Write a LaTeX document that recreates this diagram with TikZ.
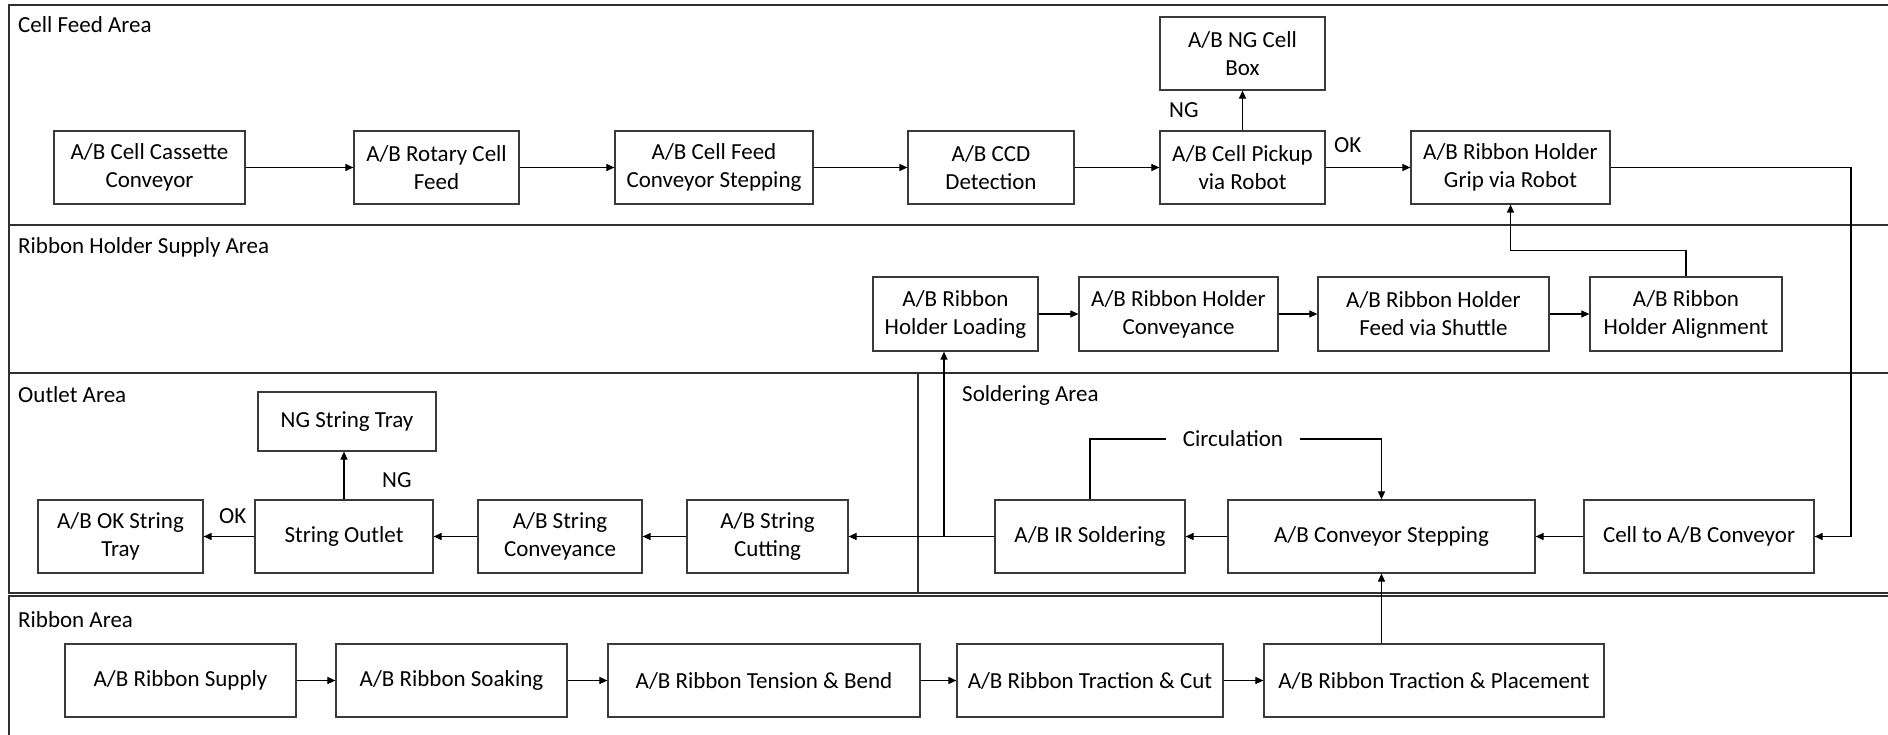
\documentclass[tikz,border=0pt]{standalone}
\usepackage{fontspec}
\setmainfont{Carlito}
\usetikzlibrary{arrows.meta}
\definecolor{boxc}{HTML}{3A3A3A}
\definecolor{areac}{HTML}{303030}
\tikzset{
  box/.style={draw=boxc, line width=1.2pt, inner sep=0pt, align=center,
    font=\fontsize{23pt}{28pt}\selectfont},
  area/.style={draw=areac, line width=1.5pt},
  lbl/.style={inner sep=0pt, font=\fontsize{23pt}{28pt}\selectfont},
  arr/.style={line width=1.1pt, draw=black, -{Triangle[length=8pt,width=7pt]}},
  ln/.style={line width=1.1pt, draw=black}
}
\begin{document}
\begin{tikzpicture}[x=1pt,y=-1pt]
\clip (0,0) rectangle (1888,735);
\fill[white] (0,0) rectangle (1888,735);
% areas
\draw[area] (9,5) rectangle (1900,225);
\draw[area] (9,225) rectangle (1900,373);
\draw[area] (9,373) rectangle (918,593);
\draw[area] (918,373) rectangle (1900,593);
\draw[area] (9,596) rectangle (1900,760);
% area labels
\node[lbl, anchor=base west] (lcf) at (18,33) {Cell Feed Area};
\node[lbl, anchor=base west] (lrh) at (18,254) {Ribbon Holder Supply Area};
\node[lbl, anchor=base west] (lout) at (18,402) {Outlet Area};
\node[lbl, anchor=base west] (lsol) at (962,401) {Soldering Area};
\node[lbl, anchor=base west] (lrib) at (18,627) {Ribbon Area};
% row 1
\node[box, minimum width=191pt, minimum height=73pt] (cc)   at (149.5,167.5) {A/B Cell Cassette\\Conveyor};
\node[box, minimum width=165pt, minimum height=73pt] (rcf)  at (436.5,167.5) {A/B Rotary Cell\\Feed};
\node[box, minimum width=198pt, minimum height=73pt] (cfs)  at (714,167.5) {A/B Cell Feed\\Conveyor Stepping};
\node[box, minimum width=166pt, minimum height=73pt] (ccd)  at (991,167.5) {A/B CCD\\Detection};
\node[box, minimum width=165pt, minimum height=73pt] (pick) at (1242.5,167.5) {A/B Cell Pickup\\via Robot};
\node[box, minimum width=199pt, minimum height=73pt] (grip) at (1510.5,167.5) {A/B Ribbon Holder\\Grip via Robot};
\node[box, minimum width=165pt, minimum height=73pt] (ngbox) at (1242.5,53.5) {A/B NG Cell\\Box};
% row 2
\node[box, minimum width=165pt, minimum height=74pt] (load)  at (955.5,314) {A/B Ribbon\\Holder Loading};
\node[box, minimum width=199pt, minimum height=74pt] (hconv) at (1178.5,314) {A/B Ribbon Holder\\Conveyance};
\node[box, minimum width=231pt, minimum height=74pt] (shut)  at (1433.5,314) {A/B Ribbon Holder\\Feed via Shuttle};
\node[box, minimum width=192pt, minimum height=74pt] (align) at (1686,314) {A/B Ribbon\\Holder Alignment};
% row 3
\node[box, minimum width=165pt, minimum height=73pt] (oktray) at (120.5,536.5) {A/B OK String\\Tray};
\node[box, minimum width=178pt, minimum height=73pt] (outlet) at (344,536.5) {String Outlet};
\node[box, minimum width=164pt, minimum height=73pt] (sconv)  at (560,536.5) {A/B String\\Conveyance};
\node[box, minimum width=161pt, minimum height=73pt] (scut)   at (767.5,536.5) {A/B String\\Cutting};
\node[box, minimum width=190pt, minimum height=73pt] (ir)     at (1090,536.5) {A/B IR Soldering};
\node[box, minimum width=307pt, minimum height=73pt] (cstep)  at (1381.5,536.5) {A/B Conveyor Stepping};
\node[box, minimum width=230pt, minimum height=73pt] (c2c)    at (1699,536.5) {Cell to A/B Conveyor};
\node[box, minimum width=178pt, minimum height=59pt] (ngtray) at (347,421.5) {NG String Tray};
% row 4
\node[box, minimum width=231pt, minimum height=73pt] (rsup)   at (180.5,680.5) {A/B Ribbon Supply};
\node[box, minimum width=231pt, minimum height=73pt] (soak)   at (451.5,680.5) {A/B Ribbon Soaking};
\node[box, minimum width=312pt, minimum height=73pt] (tens)   at (764,680.5) {A/B Ribbon Tension \& Bend};
\node[box, minimum width=266pt, minimum height=73pt] (tcut)   at (1090,680.5) {A/B Ribbon Traction \& Cut};
\node[box, minimum width=340pt, minimum height=73pt] (tplace) at (1434,680.5) {A/B Ribbon Traction \& Placement};
% small labels
\node[lbl, anchor=base west] (ng1) at (1169,118) {NG};
\node[lbl, anchor=base west] (ok1) at (1334,153) {OK};
\node[lbl, anchor=base west] (ng2) at (382,487) {NG};
\node[lbl, anchor=base west] (ok2) at (219,523) {OK};
\node[lbl, inner xsep=17pt] (circ) at (1233,439) {Circulation};
% coordinates
\coordinate (rr) at (1851,0);
\coordinate (tap) at (944,536.5);
% connectors row 1
\draw[arr] (cc) -- (rcf);
\draw[arr] (rcf) -- (cfs);
\draw[arr] (cfs) -- (ccd);
\draw[arr] (ccd) -- (pick);
\draw[arr] (pick) -- (grip);
\draw[arr] (pick.north) -- (ngbox.south);
\draw[arr] (grip.east) -- (grip.east -| rr) |- (c2c.east);
% row 2
\draw[arr] (load) -- (hconv);
\draw[arr] (hconv) -- (shut);
\draw[arr] (shut) -- (align);
\draw[arr] (align.north) -- ++(0,-26) -| (grip.south);
% row 3
\draw[arr] (c2c) -- (cstep);
\draw[arr] (cstep) -- (ir);
\draw[arr] (ir) -- (scut);
\draw[arr] (scut) -- (sconv);
\draw[arr] (sconv) -- (outlet);
\draw[arr] (outlet) -- (oktray);
\draw[arr] (outlet.north) -- (outlet.north |- ngtray.south);
\draw[arr] (tap) -- (tap |- load.south);
\draw[ln] (ir.north) |- (circ.west);
\draw[arr] (circ.east) -| (cstep.north);
% row 4
\draw[arr] (rsup) -- (soak);
\draw[arr] (soak) -- (tens);
\draw[arr] (tens) -- (tcut);
\draw[arr] (tcut) -- (tplace);
\draw[arr] (tplace.north -| cstep.south) -- (cstep.south);
\end{tikzpicture}
\end{document}
